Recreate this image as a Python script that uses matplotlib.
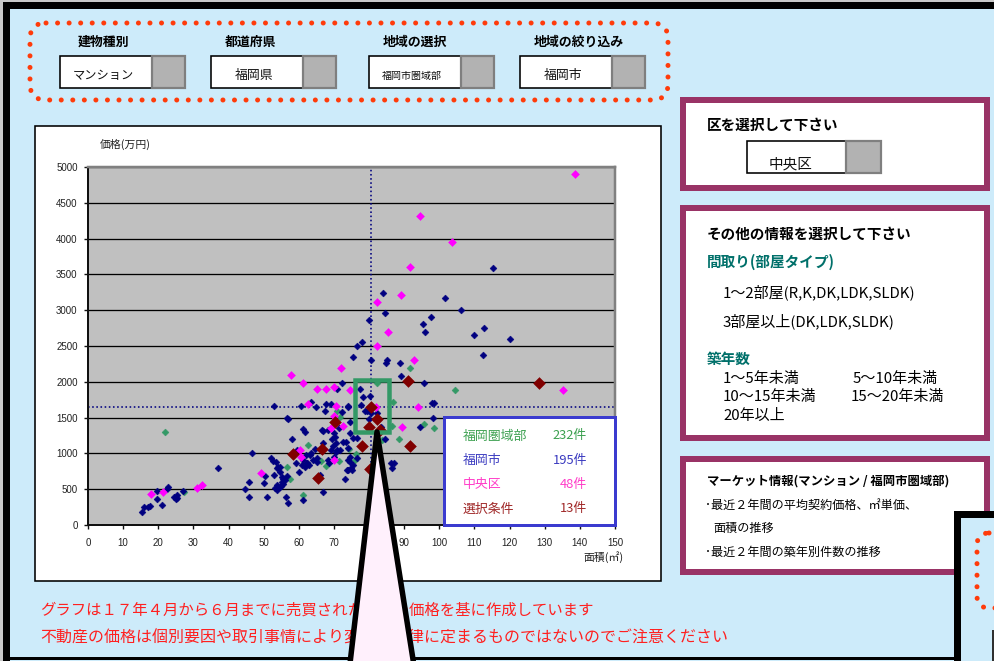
import matplotlib
matplotlib.use("Agg")
import matplotlib.pyplot as plt
from matplotlib.patches import Rectangle, FancyBboxPatch, Polygon

plt.rcParams['font.family'] = ['Noto Sans CJK JP', 'DejaVu Sans']

# ---------------- chart data ----------------
area_ticks = list(range(0, 151, 10))
price_ticks = list(range(0, 5001, 500))

# 福岡圏域部 (outside the city, visible points)
region_points = [
    (21.9, 1299), (27.4, 465), (56.5, 806), (57.5, 638), (61.3, 415), (62.5, 1113),
    (66.2, 898), (67.6, 824), (71.0, 1597), (71.6, 1504), (71.5, 898), (74.4, 1057),
    (76.0, 908), (76.3, 992), (82.4, 1979), (86.9, 1718), (86.4, 1383), (95.7, 1410),
    (98.5, 1359), (91.7, 2197), (104.5, 1886), (88.5, 1201), (83.8, 1187),
]

# 福岡市
city_points = [
    (15.5, 182), (16.0, 247), (17.2, 247), (17.6, 265), (19.5, 470), (19.5, 367),
    (21.1, 275), (22.4, 507), (22.9, 526), (24.5, 395), (25.2, 414), (25.0, 359),
    (25.4, 377), (27.1, 479), (36.9, 800),
    (44.7, 498), (45.9, 600), (45.9, 395), (46.8, 1001), (50.4, 684), (50.2, 591),
    (51.0, 395), (52.2, 931), (52.7, 898), (53.4, 875), (52.9, 698), (53.3, 517),
    (53.9, 489), (54.6, 526), (55.0, 545), (55.4, 573), (53.7, 792), (54.1, 806),
    (54.6, 815), (55.1, 666), (55.6, 638), (56.1, 624), (56.5, 684), (56.3, 395),
    (57.0, 303), (56.8, 1476), (58.2, 1201), (59.2, 862), (59.4, 1048), (60.1, 745),
    (60.8, 838), (61.3, 1336), (61.9, 1303), (61.3, 349), (62.0, 978), (62.2, 862),
    (63.6, 1001), (64.6, 1057), (65.1, 931), (64.1, 908), (65.3, 884), (66.0, 698),
    (66.8, 1313), (66.9, 1141), (66.8, 461), (68.2, 908), (68.7, 862), (69.2, 1048),
    (69.4, 1197), (69.9, 1280),
    (54.6, 745), (53.7, 559), (55.1, 605), (61.3, 908), (63.2, 978), (62.4, 870),
    (61.8, 815), (63.0, 838),
    (70.3, 1234), (68.4, 1327), (66.5, 1327), (69.8, 1104), (70.6, 1150), (70.8, 1048),
    (71.7, 1048), (72.7, 1164), (74.1, 768), (74.8, 792), (74.1, 908), (74.6, 884),
    (74.1, 1071), (74.6, 954), (76.5, 931), (75.5, 838), (73.6, 768), (73.1, 647),
    (74.6, 1280), (75.5, 1211), (73.4, 1164), (75.0, 768), (76.5, 1211), (71.5, 1359),
    (74.6, 1438), (72.2, 1583), (70.6, 1024), (70.0, 954),
    (53.0, 1662), (56.7, 1490), (60.7, 1662), (63.5, 1713), (64.8, 1653), (67.4, 1597),
    (67.6, 1686), (69.2, 1695), (71.0, 1895), (72.2, 1979), (73.9, 1662), (75.3, 2351),
    (76.6, 2500), (78.0, 2560), (80.6, 2304), (80.0, 2859), (83.9, 3240), (84.4, 2956),
    (85.0, 2304), (84.8, 2258), (88.7, 2258), (89.2, 2077), (95.5, 1983), (78.2, 1788),
    (80.4, 1802), (74.0, 1653), (77.6, 1676), (78.9, 1597), (80.1, 1476), (79.3, 1592),
    (80.5, 1569), (82.4, 1569), (83.3, 1373), (77.4, 1895), (97.8, 1700), (98.5, 1700),
    (98.3, 1499), (94.5, 1364), (84.5, 1201), (86.2, 862), (87.2, 862), (86.5, 792),
    (101.5, 3170), (106.3, 3002), (97.5, 2909), (95.3, 2811), (95.8, 2691), (109.8, 2653),
    (112.8, 2747), (120.1, 2593), (112.3, 2379), (115.3, 3589),
]

# 中央区
ward_points = [
    (17.8, 433), (21.3, 456), (31.1, 517), (32.4, 563), (49.1, 726), (57.8, 2100),
    (61.3, 1979), (62.7, 1686), (65.3, 1900), (67.8, 1900), (70.0, 1932), (71.9, 2197),
    (74.6, 1886), (70.0, 1522), (70.5, 1662), (60.3, 1048), (60.5, 945), (69.3, 1350),
    (72.7, 1383), (70.0, 908), (138.5, 4906), (94.5, 4311), (103.6, 3948), (91.7, 3603),
    (89.0, 3208), (82.2, 3110), (85.5, 2691), (82.2, 2495), (92.8, 2304), (135.3, 1886),
    (82.0, 1653), (94.0, 1653), (89.5, 1364),
]

# 選択条件
selected_points = [
    (58.4, 992), (66.7, 1057), (65.5, 652), (70.3, 1443), (80.6, 1653), (82.4, 1476),
    (80.0, 1373), (83.1, 1327), (77.9, 1108), (91.6, 1108), (80.2, 782), (91.1, 2007),
    (128.4, 1983),
]

series_names = ['福岡圏域部', '福岡市', '中央区', '選択条件']
series_counts = [232, 195, 48, 13]

# reference cross-hair (area, price)
cross_area = 80.6
cross_price = 1650

# ---------------- styling ----------------
W, H = 994, 661
PX = 72 / 100.0  # points per pixel
SKY = '#CDEBFA'
MAROON = '#993366'
TEAL = '#00706A'
ORANGE = '#FF3B0A'
C_REGION = '#339966'
C_CITY = '#000080'
C_WARD = '#FF00FF'
C_SEL = '#800000'

fig = plt.figure(figsize=(W / 100, H / 100), dpi=100)
fig.patch.set_facecolor('#C8C8C8')

bg = fig.add_axes([0, 0, 1, 1])
bg.set_xlim(0, W)
bg.set_ylim(H, 0)
bg.axis('off')

# page background and frame
bg.add_patch(Rectangle((3, 2), W, H, fc=SKY, ec='none'))
bg.add_patch(Rectangle((3, 2), W, 7, fc='black', ec='none'))
bg.add_patch(Rectangle((3, 2), 7, H, fc='black', ec='none'))
bg.add_patch(Rectangle((3, 657), W, 2.5, fc='black', ec='none'))

# selector group (dotted outline)
bg.add_patch(FancyBboxPatch((30, 23), 638, 77,
                            boxstyle='round,pad=0,rounding_size=16',
                            fc='none', ec=ORANGE, lw=5 * PX,
                            ls=(0, (0.01, 2.3)), capstyle='round'))


def dropdown(x0, y0, w_white, w_btn, h, text, fs):
    bg.add_patch(Rectangle((x0, y0), w_white, h, fc='white', ec='black', lw=1.6 * PX))
    bg.add_patch(Rectangle((x0 + w_white, y0), w_btn, h, fc='#B2B2B2', ec='#7F7F7F',
                           lw=2.2 * PX))
    bg.text(x0 + w_white / 2 - 3, y0 + h * 0.62, text, fontsize=fs,
            ha='center', va='center', color='#111111')


selectors = [
    ('建物種別', 103, 60, 'マンション', 8.8),
    ('都道府県', 251, 211, '福岡県', 9.3),
    ('地域の選択', 415, 369, '福岡市圏域部', 7.2),
    ('地域の絞り込み', 579, 520, '福岡市', 9.3),
]
for label, cx, x0, value, fs in selectors:
    bg.text(cx, 42, label, fontsize=9.3, fontweight='bold', ha='center', va='center')
    dropdown(x0, 56, 92, 33, 32, value, fs)


# right-hand panels
def panel(x0, y0, x1, y1):
    bw = 6
    bg.add_patch(Rectangle((x0 + bw / 2, y0 + bw / 2), x1 - x0 - bw, y1 - y0 - bw,
                           fc='white', ec=MAROON, lw=bw * PX))


panel(680, 97, 990, 191)
bg.text(707, 125, '区を選択して下さい', fontsize=10.5, fontweight='bold', va='center')
bg.add_patch(Rectangle((747, 141), 99, 32, fc='white', ec='black', lw=1.6 * PX))
bg.add_patch(Rectangle((846, 141), 35, 32, fc='#B2B2B2', ec='#7F7F7F', lw=2.2 * PX))
bg.text(791, 164, '中央区', fontsize=10.5, ha='center', va='center', color='#111111')

panel(680, 205, 990, 441)
bg.text(707, 234, 'その他の情報を選択して下さい', fontsize=10.5, fontweight='bold', va='center')
bg.text(707, 262, '間取り(部屋タイプ)', fontsize=10.5, fontweight='bold', va='center',
        color=TEAL)
bg.text(723, 292, '1～2部屋(R,K,DK,LDK,SLDK)', fontsize=10.8, va='center')
bg.text(723, 321, '3部屋以上(DK,LDK,SLDK)', fontsize=10.8, va='center')
bg.text(707, 359, '築年数', fontsize=10.5, fontweight='bold', va='center', color=TEAL)
bg.text(723, 379, '1～5年未満', fontsize=10.8, va='center')
bg.text(853, 379, '5～10年未満', fontsize=10.8, va='center')
bg.text(723, 397, '10～15年未満', fontsize=10.8, va='center')
bg.text(851, 397, '15～20年未満', fontsize=10.8, va='center')
bg.text(723, 416, '20年以上', fontsize=10.8, va='center')

panel(680, 456, 990, 575)
bg.text(707, 481, 'マーケット情報(マンション / 福岡市圏域部)', fontsize=8.9,
        fontweight='bold', va='center')
bg.text(705, 505, '･最近２年間の平均契約価格、㎡単価、', fontsize=8.7, va='center')
bg.text(713, 528, '面積の推移', fontsize=8.7, va='center')
bg.text(705, 552, '･最近２年間の築年別件数の推移', fontsize=8.7, va='center')

# next panel, partly off the page
bg.add_patch(Rectangle((956.5, 513.5), 100, 200, fc=SKY, ec='black', lw=7 * PX))
bg.add_patch(FancyBboxPatch((977, 533), 80, 75,
                            boxstyle='round,pad=0,rounding_size=12',
                            fc='none', ec=ORANGE, lw=5 * PX,
                            ls=(0, (0.01, 2.3)), capstyle='round'))
bg.add_patch(Rectangle((992.5, 631), 20, 40, fc='white', ec='#303030', lw=2 * PX))

# chart frame
bg.add_patch(Rectangle((35, 126), 626, 455, fc='white', ec='black', lw=1.6 * PX))
bg.text(100, 144, '価格(万円)', fontsize=7.8, va='center', color='#222222')
bg.text(623, 557, '面積(㎡)', fontsize=7.8, va='center', ha='right', color='#222222')

# notes
bg.text(40, 610, 'グラフは１７年４月から６月までに売買された物件の価格を基に作成しています',
        fontsize=11.1, va='center', color='#FF2020')
bg.text(40, 638, '不動産の価格は個別要因や取引事情により変動し一律に定まるものではないのでご注意ください',
        fontsize=11.5, va='center', color='#FF2020')

# ---------------- scatter chart ----------------
ax = fig.add_axes([88 / W, 1 - 525 / H, 527 / W, 358 / H])
ax.set_facecolor('#C0C0C0')
ax.set_xlim(0, 150)
ax.set_ylim(0, 5000)
ax.set_xticks(area_ticks)
ax.set_yticks(price_ticks)
ax.yaxis.grid(True, color='black', lw=1.3 * PX)
ax.set_axisbelow(True)
for side in ('left', 'bottom'):
    ax.spines[side].set_color('#111111')
    ax.spines[side].set_linewidth(2 * PX)
for side in ('top', 'right'):
    ax.spines[side].set_color('#808080')
    ax.spines[side].set_linewidth(2.5 * PX)
ax.tick_params(length=3, width=1, color='#111111', labelsize=7, labelcolor='#222222')
ax.tick_params(axis='x', pad=6.5)
ax.tick_params(axis='y', pad=4.5)
for lab in ax.get_xticklabels() + ax.get_yticklabels():
    lab.set_fontfamily(['Liberation Sans', 'DejaVu Sans'])

ax.axvline(cross_area, color=C_CITY, lw=1.6 * PX, ls=(0, (1, 1.6)), zorder=1.5)
ax.axhline(cross_price, color=C_CITY, lw=1.6 * PX, ls=(0, (1, 1.6)), zorder=1.5)

for pts, col, size in ((region_points, C_REGION, 12),
                       (city_points, C_CITY, 12),
                       (ward_points, C_WARD, 16),
                       (selected_points, C_SEL, 36)):
    xs, ys = zip(*pts)
    ax.scatter(xs, ys, s=size, marker='D', c=col, edgecolors=col, linewidths=0.4,
               zorder=3)

# ---------------- overlay: highlight, counts box, callout ----------------
ov = fig.add_axes([0, 0, 1, 1], zorder=5)
ov.set_xlim(0, W)
ov.set_ylim(H, 0)
ov.axis('off')
ov.patch.set_alpha(0)

ov.add_patch(Rectangle((355, 380), 34, 52, fc='none', ec=C_REGION, lw=4.5 * PX))

ov.add_patch(Rectangle((444, 417), 171, 108, fc='white', ec='#3B3BCF', lw=3 * PX))
name_colors = ['#3CA050', '#3A3AC0', '#FF3CC8', '#A02828']
for i, (name, n, col) in enumerate(zip(series_names, series_counts, name_colors)):
    yy = 436 + i * 24.3
    ov.text(463, yy, name, fontsize=9.3, color=col, va='center')
    ov.text(587, yy, f'{n}件', fontsize=9.3, color=col, va='center', ha='right')

ov.add_patch(Polygon([(377, 432), (349, 672), (415, 672)], closed=True,
                     fc='#FFF0FC', ec='black', lw=5.5 * PX, joinstyle='round'))

fig.savefig('out.png', dpi=100, facecolor=fig.get_facecolor())
